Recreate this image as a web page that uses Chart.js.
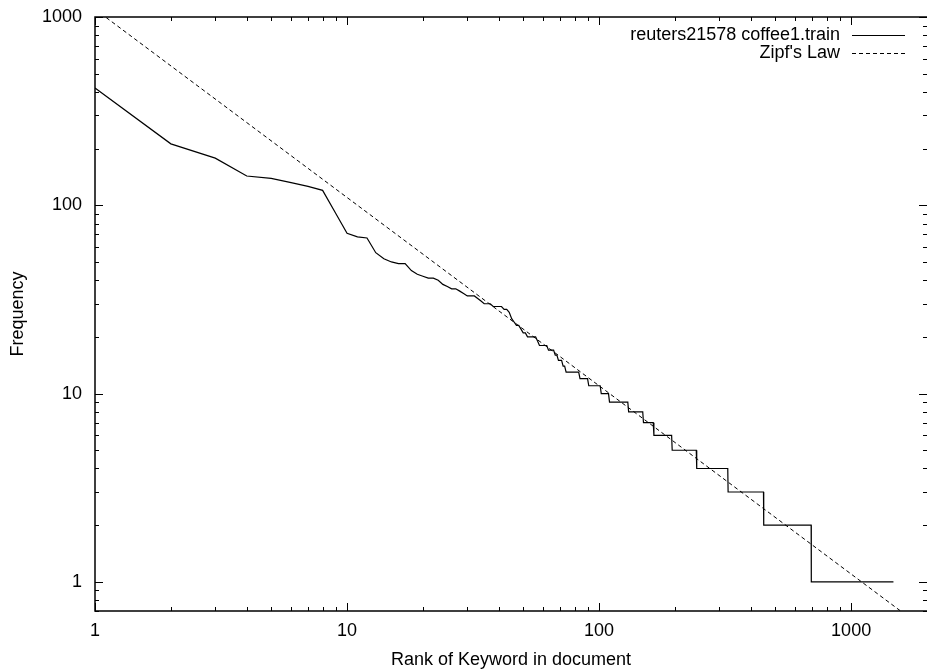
<!DOCTYPE html>
<html>
<head>
<meta charset="utf-8">
<script src="https://cdn.jsdelivr.net/npm/chart.js@4.4.0/dist/chart.umd.min.js"></script>
<style>
  html, body { margin: 0; padding: 0; background: #fff; }
</style>
</head>
<body>
<canvas id="zipf--canva" width="927" height="671"></canvas>
<script>
// rank / frequency breakpoints (plateaus given by first and last rank)
const rankValues = [
  1, 2, 3, 4, 5, 6, 7, 8, 9, 10, 11, 12, 13, 14, 15, 16, 17, 18, 19, 20,
  21, 22, 23, 24, 25, 26, 27, 28, 29, 30, 31, 32, 33, 34, 35, 36, 37, 38, 39, 40,
  41, 42, 43, 44, 45, 46, 47, 48, 49, 50, 51, 52, 56, 57, 58, 62, 63, 66, 67, 68,
  69, 71, 72, 73, 74, 83, 84, 90, 91, 101, 102, 109, 110, 130, 131, 149, 150, 164,
  165, 194, 195, 243, 244, 324, 325, 449, 450, 694, 695, 1472
];
const freqValues = [
  420, 212, 178, 143, 139, 132, 126, 120, 91, 71, 68, 67, 56, 52, 50, 49, 49, 45, 43, 42,
  41, 41, 40, 38, 37, 36, 36, 35, 34, 33, 33, 33, 32, 31, 30, 30, 30, 29, 29, 29,
  29, 28, 28, 27, 25, 24, 23, 23, 22, 21, 21, 20, 20, 19, 18, 18, 17, 17, 16, 16,
  15, 15, 14, 14, 13, 13, 12, 12, 11, 11, 10, 10, 9, 9, 8, 8, 7, 7,
  6, 6, 5, 5, 4, 4, 3, 3, 2, 2, 1, 1
];

// Zipf's law reference line, end points
const zipfRanks = [1, 2000];
const zipfFreqs = [1100, 0.55];

const xTickLabels = [1, 10, 100, 1000];
const yTickLabels = [1, 10, 100, 1000];

const seriesLabels = ["reuters21578 coffee1.train", "Zipf's Law"];

const FONT = "'Liberation Sans', Arial, Helvetica, sans-serif";
Chart.defaults.font.family = FONT;
Chart.defaults.font.size = 18;
Chart.defaults.color = "#000";

const toPoints = (xs, ys) => xs.map((x, idx) => ({ x, y: ys[idx] }));

// minor + major tick values for a log axis
const logTickValues = (min, max) => {
  const out = [];
  for (let d = 0.1; d <= max; d *= 10) {
    for (let m = 1; m <= 9; m++) {
      const v = Math.round(d * m * 1000) / 1000;
      if (v >= min && v <= max) out.push({ v, major: m === 1 });
    }
  }
  return out;
};

// gnuplot style frame: inward ticks on all four sides + legend in top right
const gnuplotFrame = {
  id: "gnuplotFrame",
  afterDatasetsDraw(chart) {
    const { ctx, chartArea: a, scales } = chart;
    const xs = scales.x;
    const ys = scales.y;
    ctx.save();
    ctx.strokeStyle = "#000";
    ctx.lineWidth = 1;

    ctx.beginPath();
    logTickValues(xs.min, xs.max).forEach(({ v, major }) => {
      const px = Math.round(xs.getPixelForValue(v)) + 0.5;
      const len = major ? 8 : 4;
      ctx.moveTo(px, a.bottom);
      ctx.lineTo(px, a.bottom - len);
      ctx.moveTo(px, a.top);
      ctx.lineTo(px, a.top + len);
    });
    logTickValues(ys.min, ys.max).forEach(({ v, major }) => {
      const py = Math.round(ys.getPixelForValue(v)) + 0.5;
      const len = major ? 8 : 4;
      ctx.moveTo(a.left, py);
      ctx.lineTo(a.left + len, py);
      ctx.moveTo(a.right, py);
      ctx.lineTo(a.right - len, py);
    });
    ctx.stroke();

    // border: right edge falls outside the canvas in the original
    ctx.lineWidth = 1.5;
    ctx.beginPath();
    ctx.moveTo(a.right + 2, a.top);
    ctx.lineTo(a.left, a.top);
    ctx.lineTo(a.left, a.bottom);
    ctx.lineTo(a.right + 2, a.bottom);
    ctx.stroke();

    // legend
    ctx.font = "18px " + FONT;
    ctx.textAlign = "right";
    ctx.textBaseline = "middle";
    ctx.fillStyle = "#000";
    chart.data.datasets.forEach((ds, idx) => {
      const y = 35 + idx * 18;
      ctx.fillText(ds.label, 840, y);
      ctx.beginPath();
      ctx.lineWidth = ds.borderWidth;
      ctx.setLineDash(ds.borderDash || []);
      ctx.moveTo(852, y + 0.5);
      ctx.lineTo(905, y + 0.5);
      ctx.stroke();
      ctx.setLineDash([]);
    });
    ctx.restore();
  },
};

const ctx = document.querySelector("#zipf--canva").getContext("2d");

new Chart(ctx, {
  type: "scatter",
  data: {
    datasets: [
      {
        label: seriesLabels[0],
        data: toPoints(rankValues, freqValues),
        showLine: true,
        borderColor: "#000",
        borderWidth: 1.2,
        pointRadius: 0,
        fill: false,
        tension: 0,
      },
      {
        label: seriesLabels[1],
        data: toPoints(zipfRanks, zipfFreqs),
        showLine: true,
        borderColor: "#000",
        borderWidth: 1,
        borderDash: [4, 3],
        pointRadius: 0,
        fill: false,
      },
    ],
  },
  options: {
    responsive: false,
    animation: false,
    layout: { padding: { left: 0, right: 0, top: 17, bottom: 0 } },
    plugins: {
      legend: { display: false },
      tooltip: { enabled: false },
    },
    scales: {
      x: {
        type: "logarithmic",
        min: 1,
        max: 2000,
        grid: { display: false, drawTicks: false },
        border: { display: false },
        afterBuildTicks: (scale) => {
          scale.ticks = xTickLabels.map((value) => ({ value }));
        },
        afterFit: (scale) => {
          scale.height = 60;
          scale.paddingLeft = 0;
          scale.paddingRight = 0;
        },
        ticks: {
          autoSkip: false,
          maxRotation: 0,
          padding: 9,
          callback: (value) => String(value),
        },
        title: {
          display: true,
          text: "Rank of Keyword in document",
          font: { size: 18 },
          padding: { top: 0, bottom: 0 },
        },
      },
      y: {
        type: "logarithmic",
        min: 0.7,
        max: 1000,
        grid: { display: false, drawTicks: false },
        border: { display: false },
        afterBuildTicks: (scale) => {
          scale.ticks = yTickLabels.map((value) => ({ value }));
        },
        afterFit: (scale) => {
          scale.width = 95;
          scale.paddingTop = 0;
          scale.paddingBottom = 0;
        },
        ticks: {
          autoSkip: false,
          padding: 13,
          callback: (value) => String(value),
        },
        title: {
          display: true,
          text: "Frequency",
          font: { size: 18 },
          padding: { top: 7, bottom: 0 },
        },
      },
    },
  },
  plugins: [gnuplotFrame],
});
</script>
</body>
</html>
